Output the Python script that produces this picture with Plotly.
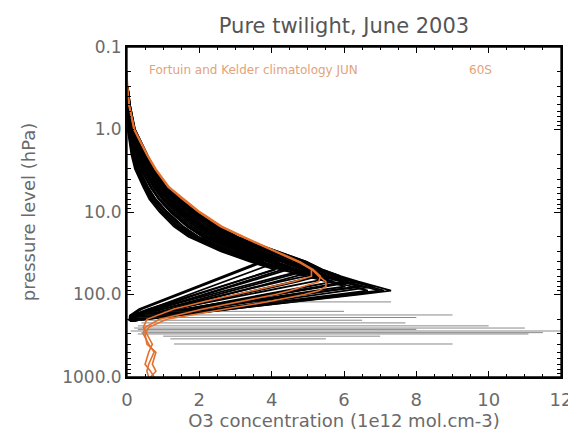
import plotly.graph_objects as go

# pressure levels (hPa) of the measured profiles
p_levels = [0.3, 0.5, 1, 2, 3, 5, 7, 10, 15, 20, 30, 40, 50, 60, 70, 80, 90, 100, 120, 150, 180, 210]

# O3 concentration (1e12 mol/cm3) for each twilight profile
prof_a = [0.0, 0.02, 0.08, 0.25, 0.38, 0.66, 0.88, 1.20, 1.66, 2.10, 3.02, 3.79, 3.22, 2.75, 2.36, 2.02, 1.72, 1.45, 0.99, 0.42, 0.10, 0.08]
prof_b = [0.0, 0.0, 0.02, 0.12, 0.22, 0.45, 0.62, 0.90, 1.30, 1.70, 2.60, 3.40, 4.10, 3.51, 3.02, 2.59, 2.22, 1.88, 1.31, 0.59, 0.12, 0.10]
prof_c = [0.01, 0.04, 0.12, 0.34, 0.49, 0.79, 1.05, 1.43, 1.93, 2.38, 3.38, 4.18, 3.58, 3.07, 2.66, 2.30, 1.98, 1.70, 1.21, 0.60, 0.14, 0.10]
prof_d = [0.0, 0.01, 0.05, 0.18, 0.30, 0.55, 0.75, 1.06, 1.48, 1.90, 2.82, 3.62, 4.45, 3.88, 3.36, 2.91, 2.52, 2.17, 1.56, 0.80, 0.19, 0.10]
prof_e = [0.02, 0.06, 0.17, 0.44, 0.62, 0.95, 1.27, 1.69, 2.24, 2.71, 3.76, 4.56, 5.10, 4.41, 3.83, 3.33, 2.89, 2.51, 1.83, 0.99, 0.31, 0.10]
prof_f = [0.0, 0.01, 0.04, 0.16, 0.27, 0.52, 0.70, 1.00, 1.42, 1.84, 2.75, 3.55, 4.32, 4.95, 4.24, 3.67, 3.17, 2.73, 1.95, 1.00, 0.22, 0.10]
prof_g = [0.01, 0.03, 0.10, 0.30, 0.44, 0.73, 0.97, 1.32, 1.80, 2.24, 3.22, 4.02, 4.68, 5.30, 4.71, 4.10, 3.58, 3.11, 2.29, 1.28, 0.47, 0.10]
prof_h = [0.02, 0.08, 0.22, 0.55, 0.75, 1.12, 1.48, 1.95, 2.55, 3.05, 4.15, 4.95, 5.40, 5.90, 5.13, 4.45, 3.86, 3.34, 2.42, 1.30, 0.38, 0.10]
prof_i = [0.0, 0.03, 0.08, 0.25, 0.38, 0.65, 0.88, 1.22, 1.68, 2.10, 3.07, 3.87, 4.56, 5.20, 5.72, 5.00, 4.37, 3.82, 2.84, 1.65, 0.67, 0.10]
prof_j = [0.01, 0.05, 0.15, 0.40, 0.57, 0.89, 1.18, 1.58, 2.11, 2.58, 3.61, 4.41, 4.98, 5.55, 6.08, 5.37, 4.68, 4.06, 2.99, 1.66, 0.58, 0.10]
prof_k = [0.0, 0.0, 0.03, 0.14, 0.25, 0.48, 0.66, 0.95, 1.36, 1.77, 2.68, 3.48, 4.26, 4.95, 5.54, 6.04, 5.22, 4.54, 3.33, 1.85, 0.64, 0.10]
prof_l = [0.01, 0.05, 0.13, 0.36, 0.51, 0.82, 1.10, 1.48, 1.99, 2.45, 3.45, 4.25, 4.86, 5.45, 6.00, 6.50, 5.64, 4.91, 3.66, 2.10, 0.84, 0.10]
prof_m = [0.02, 0.07, 0.20, 0.51, 0.70, 1.05, 1.39, 1.85, 2.43, 2.92, 4.00, 4.80, 5.28, 5.80, 6.31, 6.81, 6.05, 5.30, 3.98, 2.37, 1.05, 0.10]
prof_n = [0.02, 0.08, 0.22, 0.55, 0.75, 1.12, 1.48, 1.95, 2.55, 3.05, 4.15, 4.95, 5.40, 5.90, 6.40, 6.90, 7.30, 6.39, 4.80, 2.84, 1.25, 0.10]
prof_o = [0.01, 0.05, 0.14, 0.38, 0.54, 0.85, 1.14, 1.53, 2.05, 2.51, 3.53, 4.33, 4.92, 5.50, 6.04, 6.54, 6.98, 6.07, 4.61, 2.81, 1.36, 0.10]
prof_p = [0.0, 0.02, 0.06, 0.21, 0.33, 0.58, 0.79, 1.11, 1.55, 1.97, 2.91, 3.71, 4.44, 5.10, 5.68, 6.18, 6.66, 5.84, 4.34, 2.48, 0.98, 0.10]
prof_q = [0.02, 0.07, 0.19, 0.48, 0.67, 1.02, 1.35, 1.79, 2.36, 2.84, 3.92, 4.72, 4.05, 3.48, 3.01, 2.60, 2.25, 1.94, 1.39, 0.72, 0.18, 0.10]
prof_r = [0.02, 0.08, 0.21, 0.53, 0.72, 1.09, 1.43, 1.90, 2.49, 2.98, 4.07, 4.87, 5.34, 4.70, 4.11, 3.59, 3.15, 2.75, 2.06, 1.20, 0.51, 0.10]
prof_s = [0.0, 0.03, 0.09, 0.27, 0.40, 0.68, 0.91, 1.26, 1.73, 2.17, 3.14, 3.94, 4.62, 5.25, 4.59, 4.01, 3.51, 3.07, 2.29, 1.34, 0.55, 0.10]
prof_t = [0.01, 0.05, 0.16, 0.42, 0.59, 0.92, 1.22, 1.63, 2.17, 2.64, 3.68, 4.48, 5.04, 5.60, 6.12, 5.37, 4.71, 4.13, 3.11, 1.86, 0.83, 0.10]
prof_u = [0.0, 0.01, 0.04, 0.16, 0.27, 0.51, 0.70, 1.00, 1.42, 1.83, 2.75, 3.55, 4.30, 3.72, 3.24, 2.81, 2.45, 2.12, 1.55, 0.85, 0.28, 0.10]
prof_v = [0.02, 0.07, 0.18, 0.46, 0.64, 0.98, 1.31, 1.74, 2.30, 2.78, 3.84, 4.64, 5.16, 5.70, 6.22, 6.72, 7.10, 6.25, 4.74, 2.89, 1.39, 0.10]
prof_w = [0.01, 0.04, 0.11, 0.32, 0.47, 0.76, 1.01, 1.38, 1.87, 2.31, 3.30, 4.10, 4.74, 5.35, 5.90, 6.40, 5.54, 4.79, 3.46, 1.83, 0.51, 0.10]
prof_x = [0.02, 0.07, 0.20, 0.50, 0.70, 1.05, 1.40, 1.85, 2.43, 2.92, 4.00, 4.80, 5.28, 5.80, 6.30, 5.47, 4.74, 4.09, 2.96, 1.58, 0.45, 0.10]
prof_y = [0.01, 0.05, 0.14, 0.38, 0.54, 0.85, 1.14, 1.53, 2.05, 2.51, 3.53, 4.33, 4.95, 4.25, 3.67, 3.17, 2.72, 2.33, 1.64, 0.80, 0.10, 0.08]
prof_z = [0.0, 0.02, 0.06, 0.21, 0.33, 0.58, 0.79, 1.11, 1.55, 1.97, 2.91, 3.70, 3.13, 2.66, 2.27, 1.93, 1.63, 1.37, 0.91, 0.34, 0.08, 0.06]

profiles = [prof_a, prof_b, prof_c, prof_d, prof_e, prof_f, prof_g, prof_h, prof_i,
            prof_j, prof_k, prof_l, prof_m, prof_n, prof_o, prof_p, prof_q, prof_r,
            prof_s, prof_t, prof_u, prof_v, prof_w, prof_x, prof_y, prof_z]

# spurious horizontal excursions near the bottom of profiles
spike_p = [123, 160, 177, 190, 205, 221, 240, 255, 265, 277, 290, 301, 320, 345, 398]
spike_lo = [3.0, 1.0, 0.5, 0.3, 0.3, 0.4, 0.3, 0.2, 0.3, 0.1, 0.4, 0.3, 1.0, 1.2, 1.3]
spike_hi = [7.3, 6.0, 9.0, 8.0, 6.5, 7.7, 10.0, 11.0, 8.0, 12.5, 11.5, 11.1, 7.0, 5.5, 9.0]

# Fortuin and Kelder climatology
clim_p = [0.2, 0.3, 0.5, 1, 2, 3, 5, 7, 10, 15, 20, 30, 40, 50, 60, 70, 80, 90, 100, 120, 150, 200, 250, 300, 400, 500, 700, 850, 1000]
clim_1 = [0.0, 0.01, 0.06, 0.20, 0.55, 0.78, 1.15, 1.55, 2.00, 2.60, 3.20, 4.10, 4.75, 5.10, 5.10, 4.60, 4.00, 3.50, 3.00, 2.20, 1.30, 0.55, 0.45, 0.55, 0.70, 0.60, 0.50, 0.65, 0.75]
clim_2 = [0.0, 0.01, 0.06, 0.21, 0.56, 0.80, 1.17, 1.57, 2.02, 2.63, 3.23, 4.13, 4.78, 5.15, 5.35, 5.30, 4.90, 4.50, 4.10, 3.20, 2.10, 0.90, 0.50, 0.45, 0.60, 0.75, 0.60, 0.55, 0.60]
clim_3 = [0.0, 0.01, 0.05, 0.19, 0.54, 0.77, 1.14, 1.53, 1.98, 2.58, 3.18, 4.08, 4.72, 5.12, 5.30, 5.50, 5.50, 5.30, 4.90, 4.00, 2.70, 1.10, 0.60, 0.50, 0.55, 0.80, 0.70, 0.80, 0.65]

x_ticks = [0, 2, 4, 6, 8, 10, 12]
y_ticks = [0.1, 1, 10, 100, 1000]
y_labels = ['0.1', '1.0', '10.0', '100.0', '1000.0']

orange = '#E4702C'
grey = '#6a6a6a'
font = 'DejaVu Sans'

fig = go.Figure()

for prof in profiles:
    fig.add_trace(go.Scatter(x=prof, y=p_levels, mode='lines',
                             line=dict(color='black', width=1.8),
                             showlegend=False, hoverinfo='skip'))

for p, lo, hi in zip(spike_p, spike_lo, spike_hi):
    fig.add_trace(go.Scatter(x=[lo, hi], y=[p, p], mode='lines',
                             line=dict(color='rgba(40,40,40,0.55)', width=1),
                             showlegend=False, hoverinfo='skip'))

for clim in [clim_1, clim_2, clim_3]:
    fig.add_trace(go.Scatter(x=clim, y=clim_p, mode='lines',
                             line=dict(color=orange, width=1.6),
                             showlegend=False, hoverinfo='skip'))

fig.add_annotation(x=0.55, y=-0.72, xref='x', yref='y', xanchor='left', yanchor='middle',
                   text='Fortuin and Kelder climatology JUN', showarrow=False,
                   font=dict(family=font, size=12, color='#E3A27A'))
fig.add_annotation(x=9.4, y=-0.72, xref='x', yref='y', xanchor='left', yanchor='middle',
                   text='60S', showarrow=False,
                   font=dict(family=font, size=12, color='#E3A27A'))

# plot frame (top and right sides included)
fig.add_shape(type='rect', xref='paper', yref='paper', x0=0, x1=1, y0=0, y1=1,
              line=dict(color='black', width=1.3), layer='above')

# the page body adds an 8px offset, so the figure is drawn 8px smaller
fig.update_layout(
    width=568, height=431,
    margin=dict(l=119, r=15, t=39, b=62),
    paper_bgcolor='white', plot_bgcolor='white',
    font=dict(family=font, color=grey),
    title=dict(text='Pure twilight, June 2003', x=0.5, xref='paper',
               y=0.96, yanchor='middle', font=dict(size=21, color='#555')),
    xaxis=dict(range=[0, 12], tickvals=x_ticks, ticks='inside', ticklen=6,
               tickcolor='black', mirror='allticks', showline=True,
               linecolor='black', linewidth=1.5, showgrid=False, zeroline=False,
               automargin=False, ticklabelstandoff=6, tickfont=dict(size=18, color=grey),
               minor=dict(dtick=0.5, ticks='inside', ticklen=3, tickcolor='black'),
               title=dict(text='O3 concentration (1e12 mol.cm-3)', standoff=4,
                          font=dict(size=18, color=grey))),
    yaxis=dict(type='log', range=[3, -1], tickvals=y_ticks, ticktext=y_labels,
               ticks='inside', ticklen=7, tickcolor='black', mirror='allticks',
               showline=True, linecolor='black', linewidth=1.8, showgrid=False,
               zeroline=False, automargin=False, tickfont=dict(size=17, color=grey),
               minor=dict(dtick='D1', ticks='inside', ticklen=4, tickcolor='black'),
               title=dict(text='pressure level (hPa)', standoff=22,
                          font=dict(size=18, color=grey))),
)

fig.write_html('out.html')
